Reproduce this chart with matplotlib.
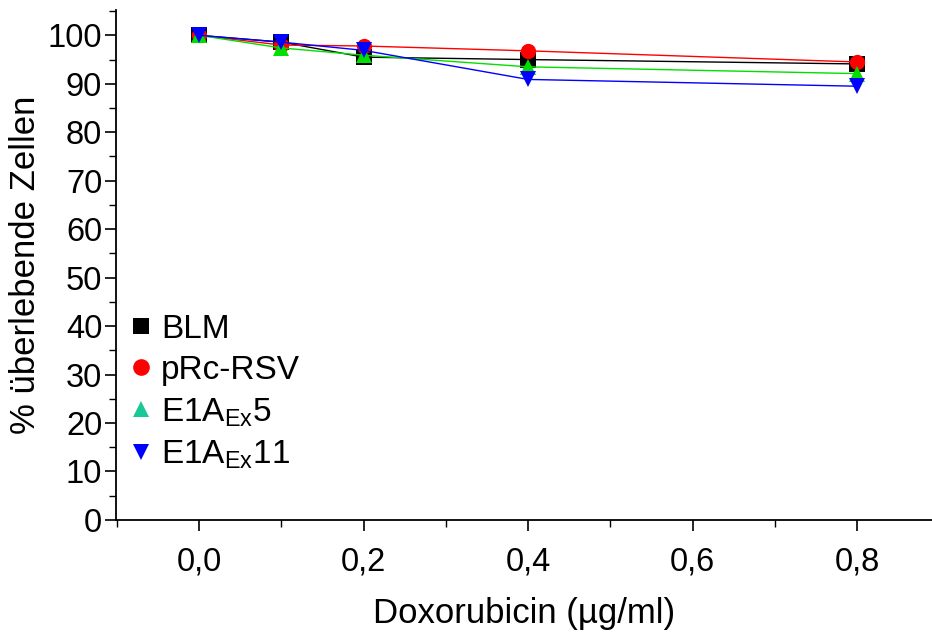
import matplotlib
matplotlib.use("Agg")
import matplotlib.pyplot as plt
from matplotlib.lines import Line2D
from matplotlib.ticker import MultipleLocator, FuncFormatter

plt.rcParams['font.family'] = ['Liberation Sans', 'DejaVu Sans']

dose = [0.0, 0.1, 0.2, 0.4, 0.8]
blm = [100.0, 98.6, 95.5, 95.0, 94.1]
prc = [100.0, 98.0, 97.8, 96.8, 94.5]
e1a5 = [100.0, 97.4, 95.9, 93.5, 92.1]
e1a11 = [100.0, 98.6, 96.9, 90.9, 89.5]

series = [
    ("BLM", blm, "black", "s", "black"),
    ("pRc-RSV", prc, "red", "o", "red"),
    ("E1A$_{\\mathregular{Ex}}$5", e1a5, "#00e000", "^", "#19c896"),
    ("E1A$_{\\mathregular{Ex}}$11", e1a11, "blue", "v", "blue"),
]

fig = plt.figure(figsize=(9.32, 6.34), dpi=100)
ax = fig.add_axes([0.1245, 0.18, 0.8755, 0.804])

handles = []
for label, vals, col, mk, legcol in series:
    ax.plot(dose, vals, color=col, lw=1.0, marker=mk, markersize=11,
            markeredgewidth=0, zorder=3)
    handles.append(Line2D([], [], color=legcol, marker=mk, linestyle='none',
                          markersize=12, markeredgewidth=0, label=label))

ax.set_xlim(-0.101, 0.891)
ax.set_ylim(0, 105.2)
ax.spines['top'].set_visible(False)
ax.spines['right'].set_visible(False)
ax.spines['left'].set_linewidth(1.3)
ax.spines['bottom'].set_linewidth(1.3)

ax.xaxis.set_major_locator(MultipleLocator(0.2))
ax.xaxis.set_minor_locator(MultipleLocator(0.1))
ax.yaxis.set_major_locator(MultipleLocator(10))
ax.yaxis.set_minor_locator(MultipleLocator(5))
ax.xaxis.set_major_formatter(FuncFormatter(lambda v, p: f"{v:.1f}".replace('.', ',')))
ax.yaxis.set_major_formatter(FuncFormatter(lambda v, p: f"{v:.0f}"))

ax.tick_params(axis='both', which='major', length=8, width=1.2, labelsize=23.5, direction='out')
ax.tick_params(axis='both', which='minor', length=5, width=1.0, direction='out')
ax.tick_params(axis='x', which='major', pad=11)
ax.tick_params(axis='y', which='major', pad=2)

ax.set_xlabel("Doxorubicin (µg/ml)", fontsize=25, labelpad=14)
ax.set_ylabel("% überlebende Zellen", fontsize=25, labelpad=4)

leg = ax.legend(handles=handles, loc='upper left', bbox_to_anchor=(0.0, 0.43),
                frameon=False, fontsize=24, handlelength=0.7, handletextpad=0.25,
                labelspacing=0.3, borderaxespad=0)

fig.savefig("out.png", dpi=100)
